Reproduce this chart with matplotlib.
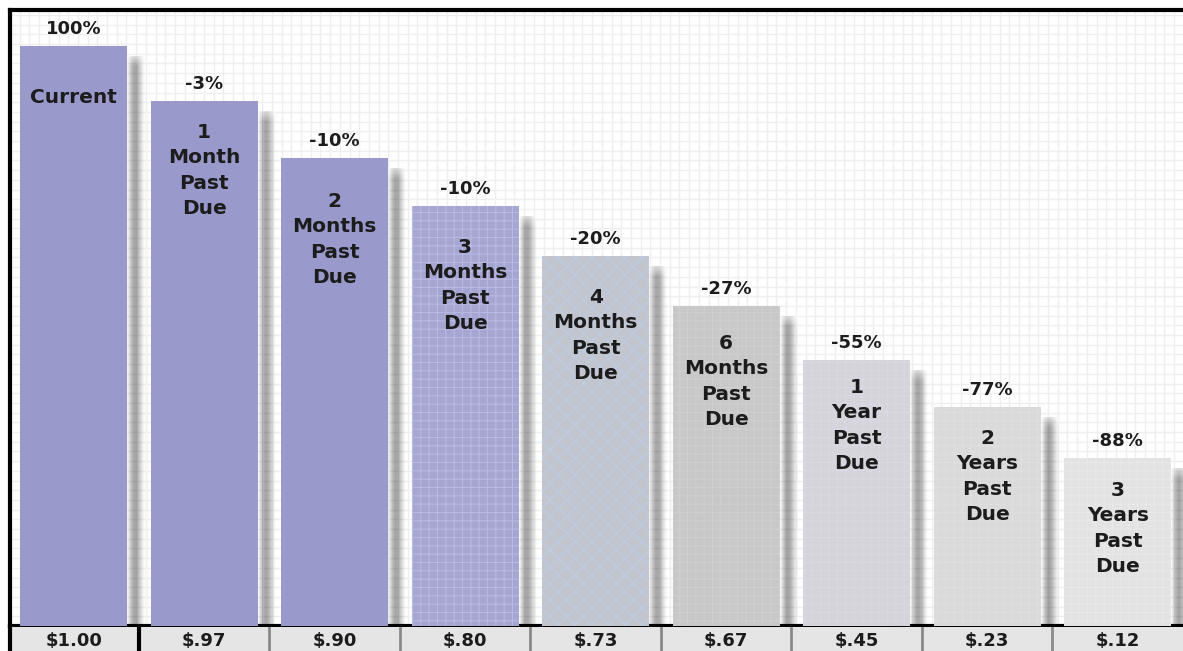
import numpy as np
import matplotlib
matplotlib.use("Agg")
import matplotlib.pyplot as plt

# data
categories = ["Current", "1\nMonth\nPast\nDue", "2\nMonths\nPast\nDue", "3\nMonths\nPast\nDue",
              "4\nMonths\nPast\nDue", "6\nMonths\nPast\nDue", "1\nYear\nPast\nDue",
              "2\nYears\nPast\nDue", "3\nYears\nPast\nDue"]
pct_labels = ["100%", "-3%", "-10%", "-10%", "-20%", "-27%", "-55%", "-77%", "-88%"]
dollar_labels = ["$1.00", "$.97", "$.90", "$.80", "$.73", "$.67", "$.45", "$.23", "$.12"]
bar_heights = [580, 525, 468, 420, 370, 320, 266, 219, 168]  # drawn height of each bar

# look of each bar
face_colors = ["#9999cc", "#9999cc", "#9999cc", "#a6a6d3", "#c3c5ce",
               "#c8c8c8", "#d4d4da", "#dadada", "#e3e3e3"]
hatch_colors = [None, None, None, "#b8b8e2", "#bccde6", "#cfcfcf", "#d9d9e6", "#dfdfdf", "#e9e9e9"]
hatches = [None, None, None, "++", "xx", "++", "++", "++", "++"]
label_gap = [42, 22, 34, 32, 32, 28, 18, 22, 23]

plt.rcParams["font.family"] = ["DejaVu Sans"]
plt.rcParams["hatch.linewidth"] = 0.8

W, H = 1183, 651
fig = plt.figure(figsize=(W / 100, H / 100), dpi=100)
fig.patch.set_facecolor("white")

ax = fig.add_axes([10 / W, 25 / H, 1173 / W, 616 / H])
x = np.arange(len(categories))
bw = 107 / 130.5
px = 1 / 130.5  # one pixel in x data units

ax.set_xlim(-0.487, 8.5)
ax.set_ylim(0, 616)

# fine background grid
ax.set_xticks(np.arange(-0.487, 8.5, 9.7 * px), minor=True)
ax.set_yticks(np.arange(0, 616, 9.7), minor=True)
ax.set_xticks([])
ax.set_yticks([])
ax.grid(which="minor", color="#efefef", linewidth=1.0)
ax.tick_params(which="both", length=0)
ax.set_axisbelow(True)

# soft drop shadow on the right of each bar
n_steps = 18
for k in range(n_steps):
    a = 0.5 * np.sin(np.pi * (k + 1) / (n_steps + 2)) ** 1.5 * (1 - k / n_steps) ** 0.6
    ax.bar(x + bw / 2 + k * px, np.array(bar_heights) - 10, width=px * 1.05,
           align="edge", color="black", alpha=a, linewidth=0, zorder=2)
# fade the shadow in at its top
for k in range(10):
    ax.bar(x + bw / 2, np.full(len(x), 1.0), bottom=np.array(bar_heights) - 10 - k - 1,
           width=n_steps * px, align="edge", color="white", alpha=0.6 * (1 - k / 10),
           linewidth=0, zorder=2.5)

for i in range(len(categories)):
    ax.bar(x[i], bar_heights[i], width=bw, color=face_colors[i],
           edgecolor=hatch_colors[i] if hatch_colors[i] else face_colors[i],
           hatch=hatches[i], linewidth=0, zorder=3)
    ax.text(x[i], bar_heights[i] + 17, pct_labels[i], ha="center", va="center",
            fontsize=13, fontweight="bold", color="#1c1c1c", zorder=4)
    ax.text(x[i], bar_heights[i] - label_gap[i], categories[i], ha="center", va="top",
            fontsize=14.5, fontweight="bold", color="#1c1c1c", linespacing=1.42, zorder=4)

for side in ["top", "left", "bottom"]:
    ax.spines[side].set_linewidth(3)
    ax.spines[side].set_color("black")
ax.spines["right"].set_visible(False)

# strip of dollar values under the bars
ax2 = fig.add_axes([10 / W, 0, 1173 / W, 24 / H])
ax2.set_xlim(-0.487, 8.5)
ax2.set_ylim(0, 1)
ax2.set_facecolor("#e5e5e5")
ax2.set_xticks([])
ax2.set_yticks([])
for side in ["top", "right", "bottom"]:
    ax2.spines[side].set_visible(False)
ax2.spines["left"].set_linewidth(3)
for i in range(len(categories) - 1):
    if i == 0:
        ax2.axvline(i + 0.5, color="black", linewidth=3)
    else:
        ax2.axvline(i + 0.5, color="#8a8a8a", linewidth=2)
for i, lab in enumerate(dollar_labels):
    ax2.text(x[i], 0.42, lab, ha="center", va="center", fontsize=13,
             fontweight="bold", color="#1c1c1c")

fig.savefig("out.png", dpi=100)
